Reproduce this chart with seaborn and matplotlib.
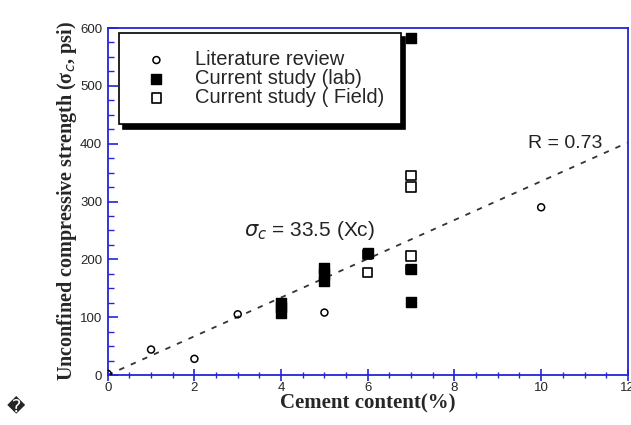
import seaborn as sns
import matplotlib.pyplot as plt
import pandas as pd
from matplotlib.ticker import MultipleLocator

# -------------- DONNEES -------------------#

lit_x = [0, 1, 2, 3, 5, 10]
lit_y = [2, 44, 28, 105, 108, 290]

lab_x = [4, 4, 4, 5, 5, 5, 6, 7, 7, 7]
lab_y = [108, 117, 125, 163, 174, 185, 211, 183, 127, 583]

field_x = [6, 6, 7, 7, 7, 7]
field_y = [208, 177, 345, 325, 206, 183]

slope = 33.5
fit_x = [0, 12]

blue = '#2424d8'

sns.set_theme(style='white')
plt.rcParams['font.family'] = ['Liberation Sans', 'DejaVu Sans']

fig = plt.figure(figsize=(6.31, 4.25), dpi=100)
ax = fig.add_axes([0.1707, 0.1176, 0.8243, 0.8165])

# droite de regression
df_fit = pd.DataFrame({'x': fit_x, 'y': [slope * v for v in fit_x]})
sns.lineplot(data=df_fit, x='x', y='y', ax=ax, color='#333333',
             linestyle=(0, (3, 4)), linewidth=1.3, legend=False)

df_lit = pd.DataFrame({'x': lit_x, 'y': lit_y})
df_lab = pd.DataFrame({'x': lab_x, 'y': lab_y})
df_field = pd.DataFrame({'x': field_x, 'y': field_y})

sns.scatterplot(data=df_lab, x='x', y='y', ax=ax, marker='s', s=45,
                color='black', edgecolor='black', linewidth=1,
                label='Current study (lab)', zorder=3)
sns.scatterplot(data=df_field, x='x', y='y', ax=ax, marker='s', s=45,
                facecolor='none', edgecolor='black', linewidth=1.2,
                label='Current study ( Field)', zorder=4)
sns.scatterplot(data=df_lit, x='x', y='y', ax=ax, marker='o', s=25,
                facecolor='none', edgecolor='black', linewidth=1.1,
                label='Literature review', zorder=4)

ax.set_xlim(0, 12)
ax.set_ylim(0, 600)
ax.xaxis.set_major_locator(MultipleLocator(2))
ax.xaxis.set_minor_locator(MultipleLocator(0.5))
ax.yaxis.set_major_locator(MultipleLocator(100))
ax.yaxis.set_minor_locator(MultipleLocator(25))

for s in ax.spines.values():
    s.set_color(blue)
    s.set_linewidth(1.3)

ax.tick_params(axis='y', which='major', direction='in', length=7, width=1.2,
               color=blue, left=True, labelsize=9.5, pad=4)
ax.tick_params(axis='y', which='minor', direction='in', length=4, width=1,
               color=blue, left=True)
ax.tick_params(axis='x', which='major', direction='inout', length=8, width=1.2,
               color=blue, bottom=True, labelsize=9.5, pad=1)
ax.tick_params(axis='x', which='minor', direction='inout', length=5, width=1,
               color=blue, bottom=True)

ax.set_xlabel('Cement content(%)', fontfamily='Liberation Serif',
              fontweight='bold', fontsize=15, labelpad=0)
ax.set_ylabel('Unconfined compressive strength (σ$_c$, psi)',
              fontfamily='Liberation Serif', fontweight='bold', fontsize=14.5,
              labelpad=1)

# legende avec ombre
h, l = ax.get_legend_handles_labels()
order = [2, 0, 1]
leg = ax.legend([h[i] for i in order], [l[i] for i in order],
                loc='upper left', bbox_to_anchor=(0.022, 0.985),
                frameon=True, fancybox=False,
                shadow={'color': 'black', 'alpha': 1, 'ox': 3, 'oy': -3},
                edgecolor='black', fontsize=14.5, handletextpad=0.9,
                borderpad=0.85, labelspacing=0.0, borderaxespad=0)
leg.get_frame().set_linewidth(1.2)
leg.set_zorder(2)

ax.text(9.7, 400, 'R = 0.73', fontsize=14, color='#222222', va='center')
ax.text(3.15, 250, r'$\sigma_c$ = 33.5 (Xc)', fontsize=15, color='#222222',
        va='center')

fig.text(0.025, 0.045, '\ufffd', fontsize=13, fontfamily='DejaVu Sans',
         ha='center', va='center')

plt.savefig('out.png', dpi=100)
plt.close()
